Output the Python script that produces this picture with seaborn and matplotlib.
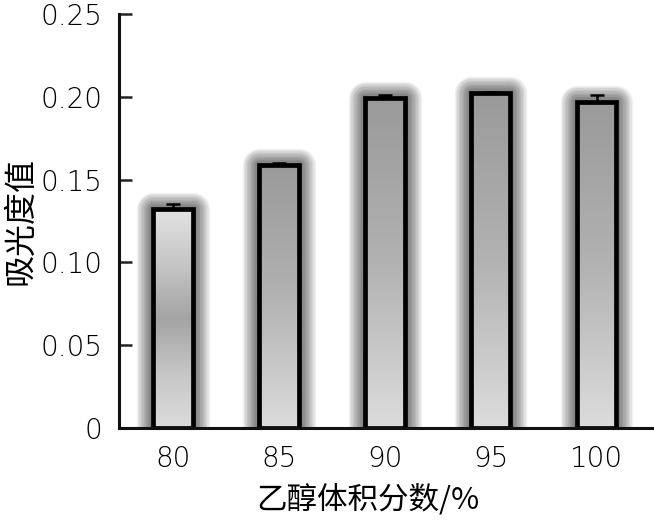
import numpy as np
import pandas as pd
import matplotlib
matplotlib.use("Agg")
import matplotlib.pyplot as plt
from matplotlib.patches import Rectangle
from matplotlib.colors import LinearSegmentedColormap
import seaborn as sns

# ---- data ----
categories = ["80", "85", "90", "95", "100"]
absorbance = [0.132, 0.159, 0.199, 0.202, 0.197]
errors = [0.003, 0.001, 0.002, 0.001, 0.004]
y_ticks = [0, 0.05, 0.10, 0.15, 0.20, 0.25]
y_tick_labels = ["0", "0.05", "0.10", "0.15", "0.20", "0.25"]
x_label = "乙醇体积分数/%"
y_label = "吸光度值"

sns.set_theme(style="white")
plt.rcParams["font.family"] = ["Noto Sans CJK SC", "DejaVu Sans"]

fig = plt.figure(figsize=(6.54, 5.2), dpi=100)
ax = fig.add_axes([119 / 654, 92 / 520, 535 / 654, 414 / 520])

df = pd.DataFrame({"cat": categories, "val": absorbance})
sns.barplot(data=df, x="cat", y="val", ax=ax, width=0.37,
            color="white", edgecolor="black", linewidth=3.4, zorder=3)

# gradient profiles (top -> bottom)
grad_default = LinearSegmentedColormap.from_list(
    "g1", ["#9a9a9a", "#b2b2b2", "#dcdcdc"])
grad_first = LinearSegmentedColormap.from_list(
    "g2", ["#e2e2e2", "#c6c6c6", "#a4a4a4", "#c6c6c6", "#dcdcdc"])

patches = list(ax.patches)
for i, p in enumerate(patches):
    x0, w, h = p.get_x(), p.get_width(), p.get_height()
    p.set_facecolor("none")
    # soft glow behind bar
    for lw in np.arange(24, 4, -2):
        g = Rectangle((x0, 0), w, h, facecolor="none", edgecolor="black",
                      linewidth=lw, alpha=0.06, zorder=1, joinstyle="round")
        ax.add_patch(g)
    cmap = grad_first if i == 0 else grad_default
    grad = np.linspace(0, 1, 256).reshape(-1, 1)
    ax.imshow(grad, cmap=cmap, extent=[x0, x0 + w, 0, h], origin="upper",
              aspect="auto", zorder=2, interpolation="bicubic")

ax.errorbar(range(len(categories)), absorbance, yerr=[[0] * len(errors), errors],
            fmt="none", ecolor="black", elinewidth=1.8, capsize=5,
            capthick=1.8, zorder=4)

ax.set_xlim(-0.51, 4.54)
ax.set_ylim(0, 0.25)
ax.set_yticks(y_ticks)
ax.set_yticklabels(y_tick_labels)

for s in ["top", "right"]:
    ax.spines[s].set_visible(False)
for s in ["left", "bottom"]:
    ax.spines[s].set_color("#111111")
    ax.spines[s].set_linewidth(2.2)
    ax.spines[s].set_zorder(5)

ax.yaxis.set_tick_params(which="major", direction="in", length=9, width=1.8,
                         color="#222222", pad=12, labelsize=20,
                         labelcolor="black", left=True, right=False)
ax.tick_params(axis="x", length=0, pad=12, labelsize=20, labelcolor="black")
for lab in ax.get_xticklabels() + ax.get_yticklabels():
    lab.set_fontfamily(["DejaVu Sans"])
    lab.set_fontweight("light")

ax.set_xlabel(x_label, fontsize=22, color="black")
ax.xaxis.set_label_coords(0.465, -0.135)
ax.set_ylabel(y_label, fontsize=23, color="black")
ax.yaxis.set_label_coords(-0.155, 0.5)
ax.grid(False)

fig.savefig("out.png", dpi=100)
